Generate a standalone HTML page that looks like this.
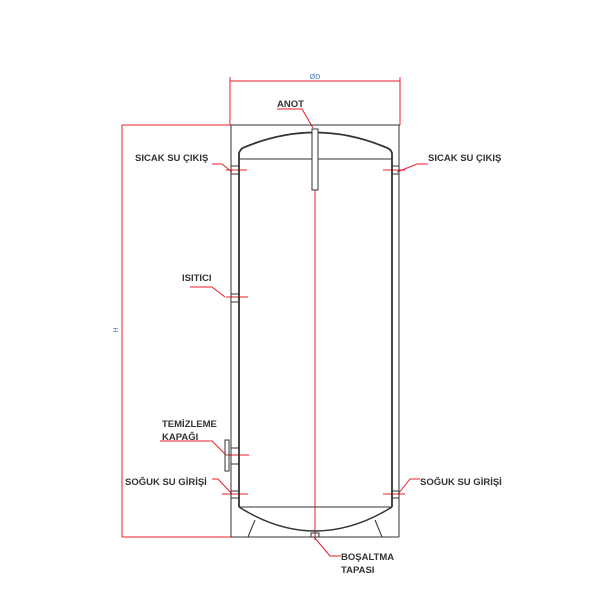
<!DOCTYPE html>
<html><head><meta charset="utf-8"><style>body{margin:0;background:#fff}svg{display:block}</style></head><body>
<svg width="600" height="600" viewBox="0 0 600 600" xmlns="http://www.w3.org/2000/svg" font-family="Liberation Sans, Arial, sans-serif">
<g stroke="#e8202a" stroke-width="1" fill="none">
<line x1="230" y1="81" x2="400" y2="81"/>
<line x1="230" y1="77" x2="230" y2="125"/>
<line x1="400" y1="77" x2="400" y2="125"/>
<polyline points="122,125 231,125"/>
<line x1="122" y1="125" x2="122" y2="537"/>
<line x1="122" y1="537" x2="231" y2="537"/>
<line x1="315" y1="130" x2="315" y2="540"/>
<!-- leaders -->
<polyline points="212,164 222,164 232,172"/>
<line x1="226" y1="170" x2="247" y2="170"/>
<polyline points="428,164 417,164 397,172"/>
<line x1="383" y1="170" x2="405" y2="170"/>
<polyline points="277,109 302,109 313,128"/>
<polyline points="190,287 212,287 225,297"/>
<line x1="226" y1="297" x2="248" y2="297"/>
<polyline points="160,441 212,441 226,455"/>
<line x1="226" y1="455" x2="249" y2="455"/>
<polyline points="212,479 218,479 232,494"/>
<line x1="222" y1="494" x2="248" y2="494"/>
<polyline points="420,479 410,479 398,494"/>
<line x1="383" y1="494" x2="405" y2="494"/>
<polyline points="314,537 330,556 341,556"/>
</g>
<g stroke="#333" stroke-width="1" fill="none">
<line x1="231" y1="125" x2="400" y2="125"/>
<line x1="231" y1="125" x2="231" y2="537"/>
<line x1="399" y1="125" x2="399" y2="537"/>
<line x1="231" y1="537" x2="399" y2="537"/>
<line x1="239" y1="159" x2="392" y2="159"/>
<line x1="239" y1="507" x2="392" y2="507"/>
<path d="M239,507 V153 Q241,148 245,147 Q315,118 385,147 Q391,149 392,153 V507" stroke-width="1.8"/>
<path d="M239,507 Q315,555 392,507" stroke-width="1.5"/>
<line x1="255" y1="520" x2="248" y2="537"/>
<line x1="375" y1="520" x2="382" y2="537"/>
<rect x="312" y="129" width="6" height="61" fill="#fff"/>
<rect x="231" y="166" width="8" height="8"/>
<rect x="392" y="166" width="7" height="8"/>
<rect x="231" y="294" width="8" height="8"/>
<rect x="231" y="448" width="8" height="16"/>
<rect x="225" y="440" width="4" height="31"/>
<rect x="231" y="491" width="8" height="7"/>
<rect x="392" y="491" width="7" height="7"/>
<rect x="311" y="533" width="8" height="4"/>
</g>
<g font-size="9.5" font-weight="bold" fill="#333">
<text x="135" y="161">SICAK SU ÇIKIŞ</text>
<text x="428" y="161">SICAK SU ÇIKIŞ</text>
<text x="277" y="107">ANOT</text>
<text x="182" y="281">ISITICI</text>
<text x="162" y="427">TEMİZLEME</text>
<text x="162" y="440">KAPAĞI</text>
<text x="125" y="485">SOĞUK SU GİRİŞİ</text>
<text x="420" y="485">SOĞUK SU GİRİŞİ</text>
<text x="341" y="560">BOŞALTMA</text>
<text x="341" y="573">TAPASI</text>
</g>
<text x="315" y="79" font-size="7" fill="#4a7ab8" text-anchor="middle">ØD</text>
<text x="118" y="330" font-size="7" fill="#4a7ab8" transform="rotate(-90 118 330)" text-anchor="middle">H</text>
</svg>
</body></html>
